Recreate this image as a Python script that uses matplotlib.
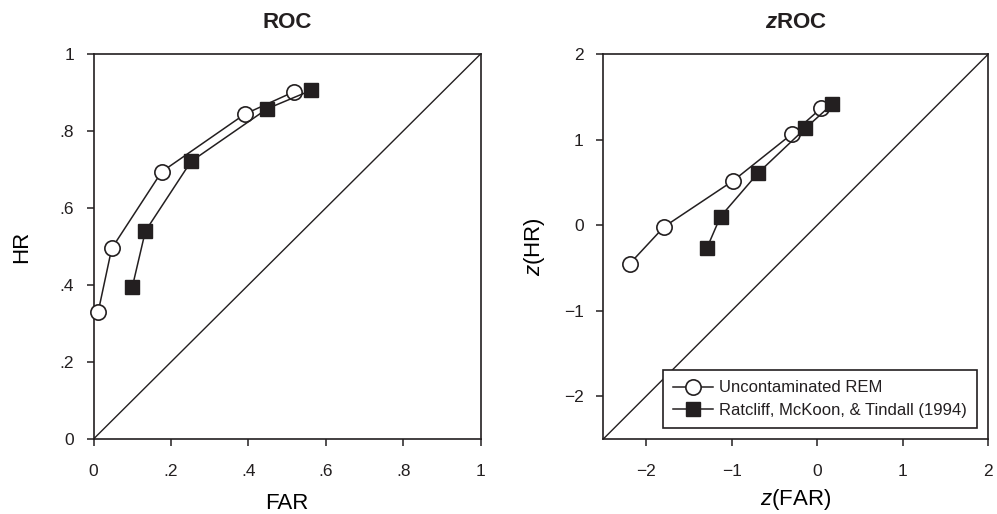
import matplotlib
matplotlib.use("Agg")
from matplotlib import pyplot as plt

# ROC data
rem_far = [0.012, 0.047, 0.176, 0.391, 0.518]
rem_hr = [0.330, 0.495, 0.694, 0.844, 0.902]
rmt_far = [0.100, 0.134, 0.252, 0.449, 0.563]
rmt_hr = [0.394, 0.540, 0.721, 0.858, 0.906]

# zROC data
rem_zfar = [-2.19, -1.79, -0.98, -0.29, 0.05]
rem_zhr = [-0.45, -0.02, 0.52, 1.07, 1.37]
rmt_zfar = [-1.29, -1.13, -0.69, -0.14, 0.17]
rmt_zhr = [-0.27, 0.10, 0.61, 1.13, 1.41]

roc_ticks = [0, 0.2, 0.4, 0.6, 0.8, 1]
roc_ticklabels = ["0", ".2", ".4", ".6", ".8", "1"]
z_ticks = [-2, -1, 0, 1, 2]

labels = ["Uncontaminated REM", "Ratcliff, McKoon, & Tindall (1994)"]

ink = "#231f20"
plt.rcParams["font.family"] = ["Liberation Sans", "DejaVu Sans"]
plt.rcParams["mathtext.fontset"] = "custom"
plt.rcParams["mathtext.rm"] = "Liberation Sans"
plt.rcParams["mathtext.it"] = "Liberation Sans:italic"
plt.rcParams["mathtext.bf"] = "Liberation Sans:bold"
plt.rcParams["mathtext.bfit"] = "Liberation Sans:italic:bold"
plt.rcParams["text.color"] = ink
plt.rcParams["axes.edgecolor"] = ink
plt.rcParams["xtick.color"] = ink
plt.rcParams["ytick.color"] = ink

fig = plt.figure(figsize=(9.97, 5.14), dpi=100)
ax1 = fig.add_axes([0.0938, 0.1459, 0.3882, 0.749])
ax2 = fig.add_axes([0.6051, 0.1459, 0.3862, 0.749])

circ = dict(color=ink, linewidth=1.1, marker="o", markersize=11,
            markerfacecolor="white", markeredgecolor=ink, markeredgewidth=1.2)
sq = dict(color=ink, linewidth=1.1, marker="s", markersize=10,
          markerfacecolor=ink, markeredgecolor=ink)


def style(ax):
    for s in ax.spines.values():
        s.set_linewidth(1.2)
    ax.tick_params(direction="out", length=5, width=1.1, labelsize=12.5,
                   top=False, right=False)
    ax.tick_params(axis="x", pad=13)
    ax.tick_params(axis="y", pad=9)


# ROC panel
ax1.plot([0, 1], [0, 1], color=ink, linewidth=1.0, zorder=1)
ax1.plot(rem_far, rem_hr, zorder=3, clip_on=False, **circ)
ax1.plot(rmt_far, rmt_hr, zorder=3, clip_on=False, **sq)
ax1.set_xlim(0, 1)
ax1.set_ylim(0, 1)
ax1.set_xticks(roc_ticks)
ax1.set_xticklabels(roc_ticklabels)
ax1.set_yticks(roc_ticks)
ax1.set_yticklabels(roc_ticklabels)
ax1.set_xlabel("FAR", fontsize=16, labelpad=10)
ax1.set_ylabel("HR", fontsize=16, labelpad=20)
ax1.set_title("ROC", fontsize=16, fontweight="bold", pad=19)
style(ax1)

# zROC panel
ax2.plot([-2.5, 2], [-2.5, 2], color=ink, linewidth=1.0, zorder=1)
ax2.plot(rem_zfar, rem_zhr, zorder=3, label=labels[0], **circ)
ax2.plot(rmt_zfar, rmt_zhr, zorder=3, label=labels[1], **sq)
ax2.set_xlim(-2.5, 2)
ax2.set_ylim(-2.5, 2)
ax2.set_xticks(z_ticks)
ax2.set_yticks(z_ticks)
ax2.set_xlabel("$\\mathit{z}$(FAR)", fontsize=16, labelpad=6)
ax2.set_ylabel("$\\mathit{z}$(HR)", fontsize=16, labelpad=12)
ax2.set_title("$\\mathbfit{z}$ROC", fontsize=16, fontweight="bold", pad=19)
style(ax2)

leg = ax2.legend(loc="lower right", bbox_to_anchor=(0.971, 0.029),
                 borderaxespad=0, fontsize=12, fancybox=False,
                 edgecolor=ink, framealpha=1, handlelength=2.4,
                 handletextpad=0.4, labelspacing=0.45, borderpad=0.6)
leg.get_frame().set_linewidth(1.2)

fig.savefig("out.png", dpi=100)
